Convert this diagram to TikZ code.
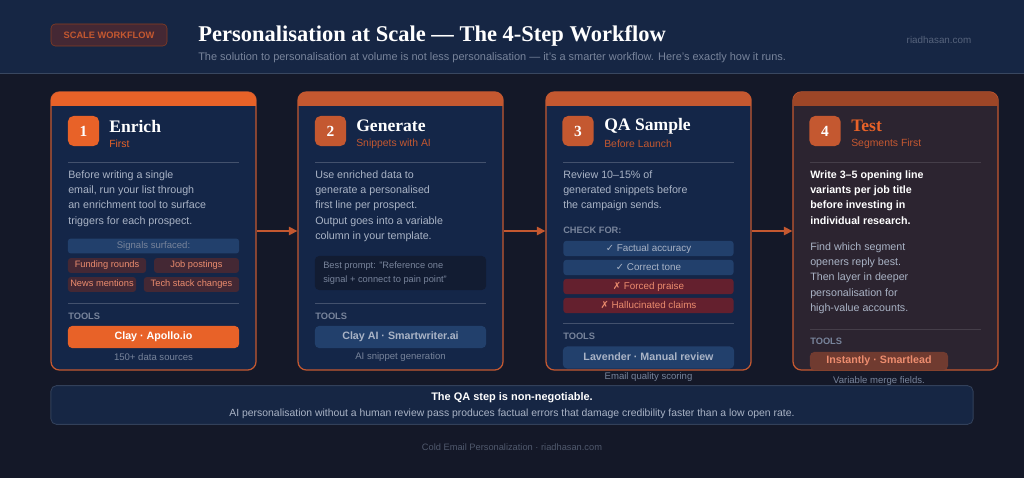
\documentclass[tikz,border=0pt]{standalone}
\usepackage{fontspec}
\setmainfont{Liberation Sans}
\newfontfamily\titlef{Liberation Serif}
\newfontfamily\symf{DejaVu Sans}
\usetikzlibrary{arrows.meta,positioning}
\definecolor{bgdark}{RGB}{20,24,40}
\definecolor{headblue}{RGB}{22,38,68}
\definecolor{cardblue}{RGB}{20,38,72}
\definecolor{cardbrown}{RGB}{44,36,48}
\definecolor{brightorange}{RGB}{232,98,40}
\definecolor{mutedorange}{RGB}{196,88,48}
\definecolor{softgray}{RGB}{170,180,198}
\definecolor{dimgray}{RGB}{120,132,155}
\definecolor{chipred}{RGB}{68,40,52}
\definecolor{chiptext}{RGB}{236,140,110}
\definecolor{barblue}{RGB}{34,64,108}
\definecolor{barred}{RGB}{100,32,46}
\definecolor{promptbg}{RGB}{18,28,50}

\tikzset{
  card/.style={draw=mutedorange,line width=0.9pt,rounded corners=6pt,minimum width=5.125cm,minimum height=6.95cm,inner sep=0pt},
  numbox/.style={fill=mutedorange,rounded corners=4pt,minimum width=0.78cm,minimum height=0.75cm,text=white,font=\titlef\bfseries\fontsize{11}{12}\selectfont},
  steptitle/.style={anchor=west,text=white,font=\titlef\bfseries\fontsize{12.5}{14}\selectfont,inner sep=0pt},
  stepsub/.style={anchor=west,text=brightorange,font=\fontsize{7.4}{9}\selectfont,inner sep=0pt},
  body/.style={anchor=north west,align=left,inner sep=0pt,text=softgray,font=\fontsize{7.6}{10.9}\selectfont},
  label/.style={anchor=west,inner sep=0pt,text=dimgray,font=\bfseries\fontsize{6.6}{8}\selectfont},
  chip/.style={fill=chipred,rounded corners=2pt,inner sep=0pt,text height=5pt,text depth=1.5pt,minimum height=0.37cm,text=chiptext,font=\fontsize{6.6}{8}\selectfont},
  bar/.style={rounded corners=2pt,inner sep=0pt,text height=5.5pt,text depth=1.5pt,minimum width=4.25cm,minimum height=0.38cm,font=\fontsize{7}{8}\selectfont},
  toolbtn/.style={rounded corners=3pt,inner sep=0pt,text height=6pt,text depth=1.8pt,minimum width=4.28cm,minimum height=0.55cm,font=\bfseries\fontsize{7.6}{9}\selectfont},
  caption/.style={inner sep=0pt,text=dimgray,font=\fontsize{6.8}{8}\selectfont},
  sep/.style={draw=white!20!cardblue,line width=0.5pt},
  arr/.style={-{Triangle[length=6pt,width=6pt]},draw=mutedorange,line width=1pt}
}

\begin{document}
\begin{tikzpicture}[x=0.025cm,y=-0.025cm]
  % background and header
  \fill[bgdark] (0,0) rectangle (1024,478);
  \useasboundingbox (0,0) rectangle (1024,478);
  \fill[headblue] (0,0) rectangle (1024,73);
  \draw[white!15!headblue,line width=0.6pt] (0,73) -- (1024,73);
  \node[draw=mutedorange!70!black,fill=chipred,rounded corners=3pt,minimum width=2.9cm,minimum height=0.55cm,text=mutedorange,font=\bfseries\fontsize{6.6}{8}\selectfont] (badge) at (109,35) {SCALE WORKFLOW};
  \node[anchor=west,inner sep=0pt,text=white,font=\titlef\bfseries\fontsize{16}{18}\selectfont] (title) at (198,36) {Personalisation at Scale — The 4-Step Workflow};
  \node[anchor=west,inner sep=0pt,text=dimgray,font=\fontsize{7.8}{9}\selectfont] (subtitle) at (198,58) {The solution to personalisation at volume is not less personalisation — it's a smarter workflow. Here's exactly how it runs.};
  \node[text=dimgray!65!headblue,inner sep=0pt,font=\fontsize{7}{8}\selectfont] (site) at (939,40) {riadhasan.com};

  % cards
  \node[card,fill=cardblue] (c1) at (153.5,231) {};
  \node[card,fill=cardblue] (c2) at (400.5,231) {};
  \node[card,fill=cardblue] (c3) at (648.5,231) {};
  \node[card,fill=cardbrown] (c4) at (895.5,231) {};
  \foreach \xl/\col in {51/brightorange,298/mutedorange,546/mutedorange,793/mutedorange!80!black}{
    \fill[\col,rounded corners=6pt] (\xl,92) rectangle (\xl+205,106);
    \fill[\col] (\xl,99) rectangle (\xl+205,106);
  }
  \draw[arr] (c1.east) -- (c2.west);
  \draw[arr] (c2.east) -- (c3.west);
  \draw[arr] (c3.east) -- (c4.west);

  % Step 1
  \node[numbox,fill=brightorange] (n1) at (83.5,131) {1};
  \node[steptitle] (t1) at (109,126) {Enrich};
  \node[stepsub] (s1) at (109,144) {First};
  \draw[sep] (68,162) -- (239,162);
  \node[body] (b1) at (68,170) {Before writing a single\\email, run your list through\\an enrichment tool to surface\\triggers for each prospect.};
  \node[fill=barblue,rounded corners=2pt,inner sep=0pt,text height=5pt,text depth=1.5pt,minimum width=4.28cm,minimum height=0.37cm,text=dimgray,font=\fontsize{6.8}{8}\selectfont] (sig) at (153.5,246) {Signals surfaced:};
  \node[chip,minimum width=1.95cm] (ch1) at (107,265.5) {Funding rounds};
  \node[chip,minimum width=2.12cm] (ch2) at (196.5,265.5) {Job postings};
  \node[chip,minimum width=1.7cm] (ch3) at (102,284.5) {News mentions};
  \node[chip,minimum width=2.38cm] (ch4) at (191.5,284.5) {Tech stack changes};
  \draw[sep] (68,303) -- (239,303);
  \node[label] (l1) at (68,316) {TOOLS};
  \node[toolbtn,fill=brightorange,text=white] (tb1) at (153.5,337) {Clay · Apollo.io};
  \node[caption] (cp1) at (153.5,357) {150+ data sources};

  % Step 2
  \node[numbox] (n2) at (330.5,131) {2};
  \node[steptitle] (t2) at (356,126) {Generate};
  \node[stepsub,text=mutedorange] (s2) at (356,144) {Snippets with AI};
  \draw[sep] (315,162) -- (486,162);
  \node[body] (b2) at (315,170) {Use enriched data to\\generate a personalised\\first line per prospect.\\Output goes into a variable\\column in your template.};
  \node[fill=promptbg,rounded corners=3pt,minimum width=4.28cm,minimum height=0.85cm,inner sep=0pt] (pr) at (400.5,273) {};
  \node[anchor=west,align=left,inner sep=0pt,text=dimgray,font=\fontsize{6.6}{9.6}\selectfont] (prt) at (323,273) {Best prompt: "Reference one\\signal + connect to pain point"};
  \draw[sep] (315,303) -- (486,303);
  \node[label] (l2) at (315,316) {TOOLS};
  \node[toolbtn,fill=barblue,text=softgray] (tb2) at (400.5,337) {Clay AI · Smartwriter.ai};
  \node[caption] (cp2) at (400.5,357) {AI snippet generation};

  % Step 3
  \node[numbox] (n3) at (578,131) {3};
  \node[steptitle] (t3) at (604,126) {QA Sample};
  \node[stepsub,text=mutedorange] (s3) at (604,144) {Before Launch};
  \draw[sep] (563,162) -- (734,162);
  \node[body] (b3) at (563,170) {Review 10–15\% of\\generated snippets before\\the campaign sends.};
  \node[label] (l3) at (563,230) {CHECK FOR:};
  \node[bar,fill=barblue,text=softgray] (q1) at (648.5,248.5) {{\symf ✓} Factual accuracy};
  \node[bar,fill=barblue,text=softgray] (q2) at (648.5,267.5) {{\symf ✓} Correct tone};
  \node[bar,fill=barred,text=chiptext] (q3) at (648.5,286.5) {{\symf ✗} Forced praise};
  \node[bar,fill=barred,text=chiptext] (q4) at (648.5,305.5) {{\symf ✗} Hallucinated claims};
  \draw[sep] (563,323) -- (734,323);
  \node[label] (l3b) at (563,336) {TOOLS};
  \node[toolbtn,fill=barblue,text=softgray] (tb3) at (648.5,357.5) {Lavender · Manual review};
  \node[caption] (cp3) at (648.5,377) {Email quality scoring};

  % Step 4
  \node[numbox] (n4) at (825,131) {4};
  \node[steptitle,text=brightorange] (t4) at (851,126) {Test};
  \node[stepsub,text=mutedorange] (s4) at (851,144) {Segments First};
  \draw[sep,draw=white!12!cardbrown] (810,162) -- (981,162);
  \node[body,text=white,font=\bfseries\fontsize{7.6}{10.9}\selectfont] (b4) at (810,170) {Write 3–5 opening line\\variants per job title\\before investing in\\individual research.};
  \node[body] (b4b) at (810,242) {Find which segment\\openers reply best.\\Then layer in deeper\\personalisation for\\high-value accounts.};
  \draw[sep,draw=white!12!cardbrown] (810,329) -- (981,329);
  \node[label] (l4) at (810,341) {TOOLS};
  \node[toolbtn,fill=mutedorange!45!cardbrown,text=chiptext,minimum width=3.45cm,minimum height=0.45cm] (tb4) at (879,361) {Instantly · Smartlead};
  \node[caption] (cp4) at (879,381) {Variable merge fields.};

  % note
  \node[draw=white!12!headblue,fill=headblue,rounded corners=4pt,line width=0.6pt,minimum width=23.05cm,minimum height=0.97cm,inner sep=0pt] (note) at (512,405) {};
  \node[inner sep=0pt,text=white,font=\bfseries\fontsize{7.8}{9}\selectfont] (nt1) at (512,398) {The QA step is non-negotiable.};
  \node[inner sep=0pt,text=softgray,font=\fontsize{7.4}{9}\selectfont] (nt2) at (512,414) {AI personalisation without a human review pass produces factual errors that damage credibility faster than a low open rate.};
  \node[inner sep=0pt,text=dimgray!60!bgdark,font=\fontsize{6.6}{8}\selectfont] (foot) at (512,447) {Cold Email Personalization · riadhasan.com};
\end{tikzpicture}
\end{document}
